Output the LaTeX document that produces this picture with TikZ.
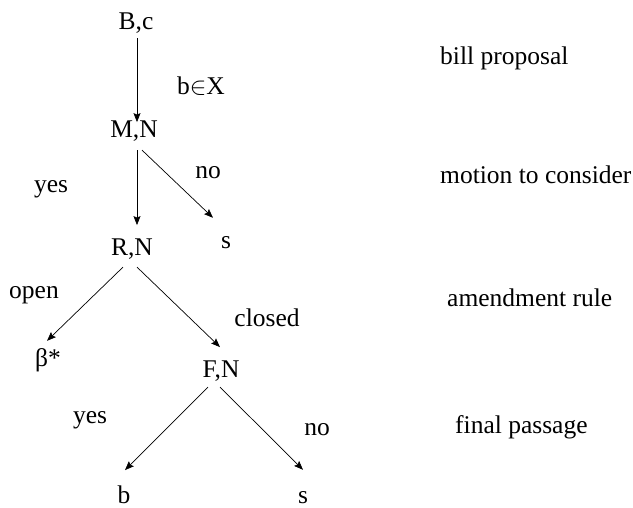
\documentclass[tikz,border=0pt]{standalone}
\usepackage{fontspec}
\setmainfont{Liberation Serif}
\usetikzlibrary{arrows.meta}
\begin{document}
\begin{tikzpicture}[x=1pt,y=-1pt,
  txt/.style={inner sep=0pt,anchor=base,font=\fontsize{25.5}{30}\selectfont},
  side/.style={txt,anchor=base west},
  arr/.style={line width=0.7pt,-{Stealth[length=9pt,width=7pt,inset=1.5pt]}}]
\useasboundingbox[fill=white] (0,0) rectangle (633,507);
% tree nodes
\node[txt] (Bc) at (136,29) {B,c};
\node[txt] (bX) at (201,94) {b$\in$X};
\node[txt] (MN) at (134,137) {M,N};
\node[txt] (yes1) at (51,192) {yes};
\node[txt] (no1) at (208,178) {no};
\node[txt] (s1) at (226,248) {s};
\node[txt] (RN) at (132,255) {R,N};
\node[txt] (open) at (34,298) {open};
\node[txt] (closed) at (267,326) {closed};
\node[txt] (beta) at (48,366) {β*};
\node[txt] (FN) at (221,377) {F,N};
\node[txt] (yes2) at (90,423) {yes};
\node[txt] (no2) at (317,435) {no};
\node[txt] (b) at (124,503) {b};
\node[txt] (s2) at (303,503) {s};
% stage labels
\node[side] (l1) at (440,64) {bill proposal};
\node[side] (l2) at (440,183) {motion to consider};
\node[side] (l3) at (447,306) {amendment rule};
\node[side] (l4) at (455,433) {final passage};
% connectors
\draw[arr] ([xshift=1pt,yshift=-5pt]Bc.south) -- ([xshift=3pt,yshift=-2pt]MN.north);
\draw[arr] ([xshift=3pt,yshift=-9pt]MN.south) -- ([xshift=5pt,yshift=13pt]RN.north);
\draw[arr] ([xshift=8pt,yshift=-9pt]MN.south) -- ([xshift=-13pt,yshift=18pt]s1.north);
\draw[arr] ([xshift=-9pt,yshift=-8pt]RN.south) -- ([xshift=-1pt,yshift=7pt]beta.north);
\draw[arr] ([xshift=5pt,yshift=-8pt]RN.south) -- ([xshift=-1pt,yshift=13pt]FN.north);
\draw[arr] ([xshift=-13pt,yshift=-6pt]FN.south) -- ([xshift=1pt,yshift=15pt]b.north);
\draw[arr] ([xshift=-1pt,yshift=-6pt]FN.south) -- ([xshift=0pt,yshift=21pt]s2.north);
\end{tikzpicture}
\end{document}
